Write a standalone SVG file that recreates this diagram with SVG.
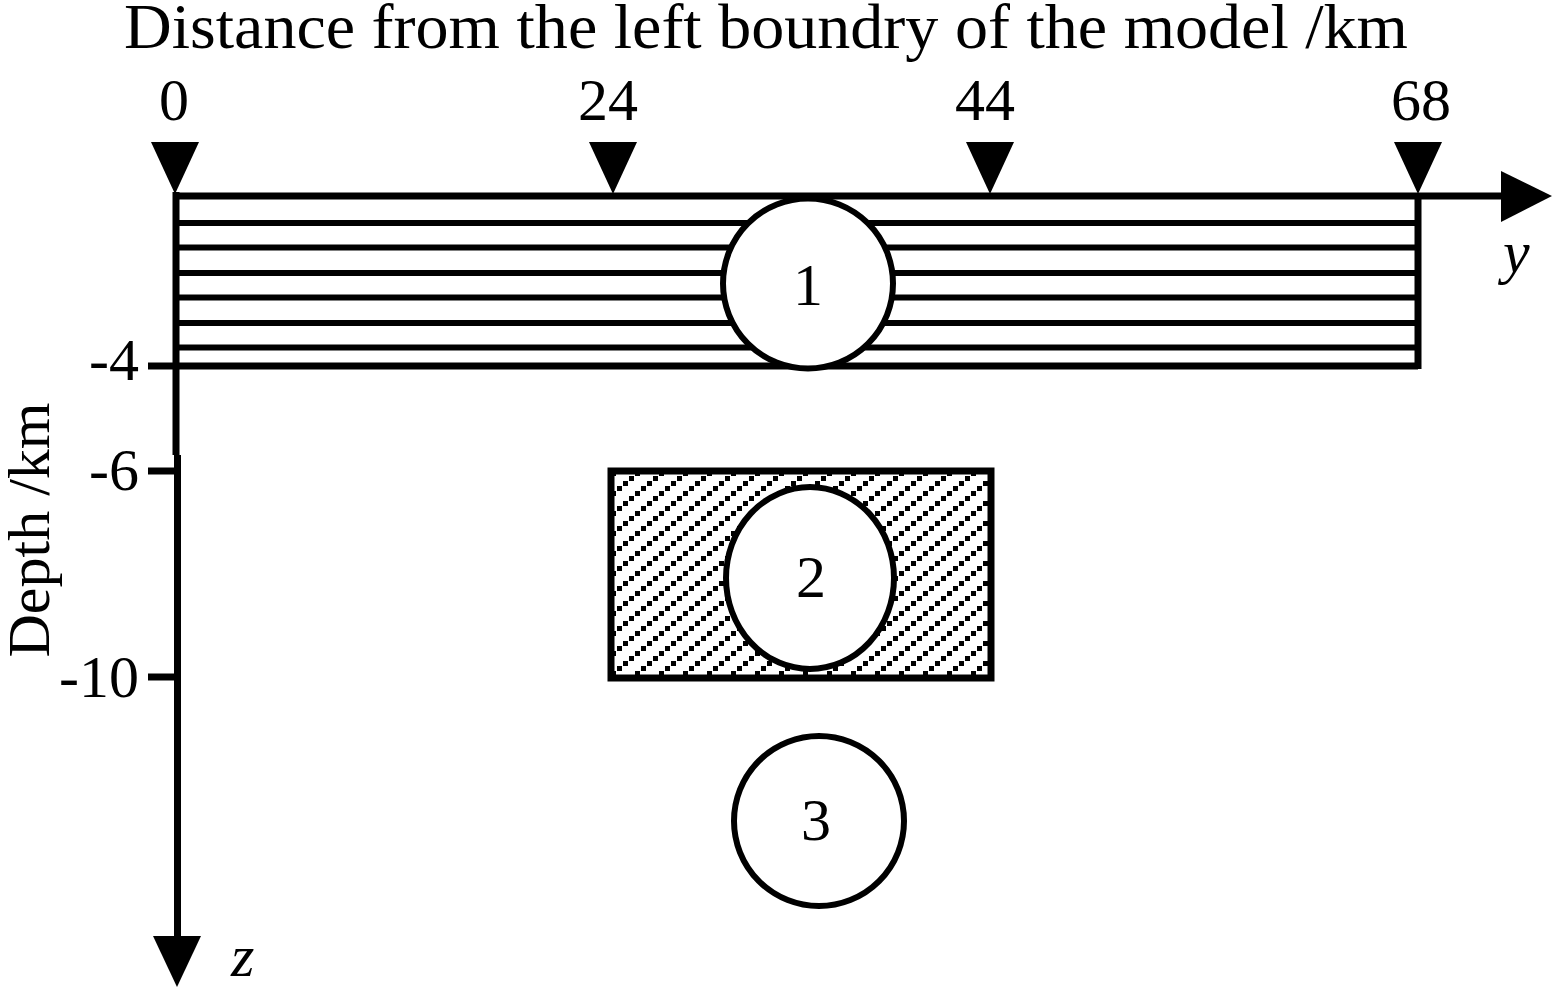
<svg xmlns="http://www.w3.org/2000/svg" width="1552" height="987" viewBox="0 0 1552 987">
<style>
text{font-family:"Liberation Serif","Times New Roman",serif;fill:#000}
.t{font-size:60px}
.ln{stroke:#000;stroke-width:7;fill:none}
.st{stroke:#000;stroke-width:6;fill:none}
.c{fill:#fff;stroke:#000;stroke-width:6}
.tri{fill:#000}
.it{font-style:italic;font-size:60px}
.sq{fill:#000}
</style>
<defs>
<pattern id="hatch" patternUnits="userSpaceOnUse" x="611" y="471" width="24" height="20">
<rect class="sq" x="0" y="0" width="5" height="5"/>
<rect class="sq" x="6" y="15" width="5" height="5"/>
<rect class="sq" x="12" y="10" width="5" height="5"/>
<rect class="sq" x="18" y="5" width="5" height="5"/>
</pattern>
</defs>
<rect width="1552" height="987" fill="#fff"/>
<text x="124" y="48" font-size="64" textLength="1284" lengthAdjust="spacingAndGlyphs">Distance from the left boundry of the model /km</text>
<g id="layer1">
<line class="st" x1="176" y1="223" x2="1418" y2="223"/>
<line class="st" x1="176" y1="247.5" x2="1418" y2="247.5"/>
<line class="st" x1="176" y1="273" x2="1418" y2="273"/>
<line class="st" x1="176" y1="297.5" x2="1418" y2="297.5"/>
<line class="st" x1="176" y1="323" x2="1418" y2="323"/>
<line class="st" x1="176" y1="347.5" x2="1418" y2="347.5"/>
<line class="ln" x1="176" y1="366" x2="1418" y2="366"/>
<line class="ln" x1="1418" y1="196" x2="1418" y2="369"/>
</g>
<g id="region2">
<rect x="611" y="471" width="380" height="207" fill="url(#hatch)" stroke="#000" stroke-width="7"/>
</g>
<g id="connectors">
<line class="ln" x1="176" y1="196" x2="1504" y2="196"/>
<polygon class="tri" points="1501,171 1552,196 1501,222"/>
<line class="ln" x1="176" y1="192" x2="176" y2="455"/>
<line class="ln" x1="177.5" y1="455" x2="177.5" y2="940"/>
<polygon class="tri" points="153,936 201,936 177,987"/>
<line class="ln" x1="148" y1="366" x2="176" y2="366"/>
<line class="ln" x1="148" y1="471" x2="178" y2="471"/>
<line class="ln" x1="148" y1="677" x2="178" y2="677"/>
<polygon class="tri" points="151,142 199,142 175,194"/>
<polygon class="tri" points="589,142 637,142 613,194"/>
<polygon class="tri" points="966,142 1014,142 990,194"/>
<polygon class="tri" points="1394,142 1442,142 1418,194"/>
</g>
<g id="circle1">
<circle class="c" cx="808" cy="283.5" r="85"/>
<text class="t" x="808" y="305" text-anchor="middle">1</text>
</g>
<g id="circle2">
<ellipse class="c" cx="810" cy="578" rx="84" ry="91"/>
<text class="t" x="811" y="597" text-anchor="middle">2</text>
</g>
<g id="circle3">
<circle class="c" cx="819" cy="821" r="85"/>
<text class="t" x="816" y="840" text-anchor="middle">3</text>
</g>
<g id="labels">
<text class="t" x="174" y="120" text-anchor="middle">0</text>
<text class="t" x="608" y="120" text-anchor="middle">24</text>
<text class="t" x="985" y="120" text-anchor="middle">44</text>
<text class="t" x="1421" y="120" text-anchor="middle">68</text>
<text class="t" x="139" y="380" text-anchor="end">-4</text>
<text class="t" x="139" y="490" text-anchor="end">-6</text>
<text class="t" x="139" y="697" text-anchor="end">-10</text>
<text class="t" transform="translate(49,530) rotate(-90)" text-anchor="middle" font-size="64">Depth /km</text>
<text class="it" x="1503" y="272">y</text>
<text class="it" x="231" y="976">z</text>
</g>
</svg>
